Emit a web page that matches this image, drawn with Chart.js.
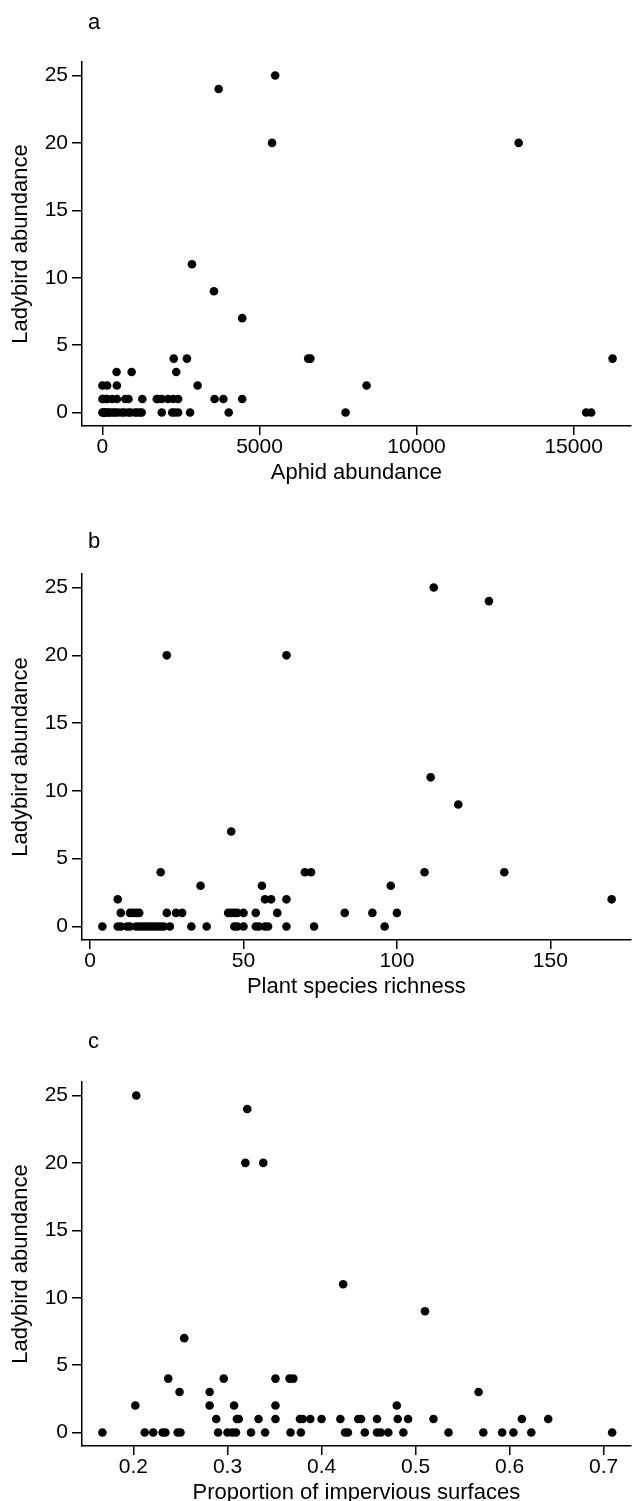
<!DOCTYPE html>
<html>
<head>
<meta charset="utf-8">
<script src="https://cdn.jsdelivr.net/npm/chart.js@4.4.1/dist/chart.umd.min.js"></script>
<style>
html, body { margin: 0; padding: 0; background: #fff; overflow: hidden; }
#wrap { position: relative; width: 635px; height: 1501px; }
.panel { position: absolute; left: 0; width: 635px; }
</style>
</head>
<body>
<div id="wrap">
    <div class="panel" style="top:12px"><canvas id="chart-a" width="635" height="474"></canvas></div>
    <div class="panel" style="top:524px"><canvas id="chart-b" width="635" height="476"></canvas></div>
    <div class="panel" style="top:1032px"><canvas id="chart-c" width="635" height="474"></canvas></div>
</div>
<script>
// ladybirds per site, same order in every x array below
const ladybirds = [25, 24, 20, 20, 11, 9, 7,
    4, 4, 4, 4, 4,
    3, 3, 3,
    2, 2, 2, 2, 2,
    1, 1, 1, 1, 1, 1, 1, 1, 1, 1, 1, 1, 1, 1, 1, 1, 1, 1,
    0, 0, 0, 0, 0, 0, 0, 0, 0, 0, 0, 0, 0, 0, 0, 0, 0, 0, 0, 0, 0, 0, 0, 0, 0, 0, 0, 0];

const aphidAbundance = [5500, 3700, 5400, 13250, 2850, 3550, 4450,
    2270, 2690, 6550, 6620, 16240,
    450, 930, 2350,
    0, 150, 460, 3030, 8410,
    0, 30, 150, 310, 460, 730, 830, 1270, 1730, 1760, 1890, 2090, 2250, 2410, 3570, 3850, 4450, 120,
    0, 50, 60, 80, 150, 200, 250, 350, 410, 500, 620, 700, 830, 900, 1040, 1100, 1200, 1250,
    1890, 2220, 2300, 2410, 2790, 4020, 7740, 15400, 15560, 20];

const plantRichness = [112, 130, 25, 64, 111, 120, 46,
    23, 70, 72, 109, 135,
    36, 56, 98,
    9, 57, 59, 64, 170,
    10, 13, 14, 15, 16, 25, 28, 30, 45, 46, 47, 48, 50, 54, 61, 83, 92, 100,
    4, 9, 10, 12, 13, 15, 16, 17, 18, 19, 20, 21, 22, 23, 24, 26, 33, 38, 47, 48,
    50, 54, 55, 57, 58, 64, 73, 96];

const imperviousProp = [0.203, 0.321, 0.319, 0.338, 0.423, 0.510, 0.254,
    0.237, 0.296, 0.351, 0.366, 0.370,
    0.249, 0.281, 0.567,
    0.202, 0.281, 0.307, 0.351, 0.480,
    0.288, 0.310, 0.312, 0.333, 0.351, 0.377, 0.380, 0.388, 0.400, 0.420, 0.439, 0.442, 0.459, 0.481, 0.492, 0.519, 0.613, 0.641,
    0.167, 0.212, 0.221, 0.231, 0.234, 0.247, 0.250, 0.290, 0.300, 0.305, 0.309, 0.325, 0.340, 0.367,
    0.378, 0.425, 0.428, 0.446, 0.459, 0.463, 0.471, 0.487, 0.535, 0.572, 0.592, 0.604, 0.623, 0.709];

const yTicks = [0, 5, 10, 15, 20, 25];
const aphidTicks = [0, 5000, 10000, 15000];
const plantTicks = [0, 50, 100, 150];
const imperviousTicks = [0.2, 0.3, 0.4, 0.5, 0.6, 0.7];

const FONT = '"Liberation Sans", Arial, Helvetica, sans-serif';

const panelLetter = {
    id: 'panelLetter',
    afterDraw(chart, args, opts) {
        const ctx = chart.ctx;
        ctx.save();
        ctx.font = '22px ' + FONT;
        ctx.fillStyle = '#000';
        ctx.textBaseline = 'alphabetic';
        ctx.fillText(opts.text, 88, opts.y);
        ctx.restore();
    }
};

function makeChart(id, xs, xTicks, xMin, xMax, xTitle, letter, letterY) {
    new Chart(document.getElementById(id), {
        type: 'scatter',
        data: {
            datasets: [{
                data: ladybirds.map((y, i) => ({ x: xs[i], y: y })),
                backgroundColor: '#000',
                borderColor: '#000',
                pointRadius: 4.3,
                pointBorderWidth: 0
            }]
        },
        options: {
            responsive: false,
            animation: false,
            events: [],
            layout: { padding: { top: 50, left: 0, right: 0, bottom: 0 } },
            plugins: {
                legend: { display: false },
                tooltip: { enabled: false },
                panelLetter: { text: letter, y: letterY }
            },
            scales: {
                x: {
                    type: 'linear',
                    min: xMin,
                    max: xMax,
                    afterBuildTicks: s => { s.ticks = xTicks.map(v => ({ value: v })); },
                    afterFit: s => { s.height = 60; },
                    grid: { drawOnChartArea: false, drawTicks: true, tickLength: 9, color: '#000', lineWidth: 1.5 },
                    border: { display: true, color: '#000', width: 1.5 },
                    ticks: {
                        autoSkip: false, maxRotation: 0, padding: 0,
                        color: '#000', font: { family: FONT, size: 21 },
                        callback: v => String(v)
                    },
                    title: {
                        display: true, text: xTitle, color: '#000',
                        font: { family: FONT, size: 22, lineHeight: 1.2 },
                        padding: { top: 0, bottom: 0 }
                    }
                },
                y: {
                    min: -1,
                    max: 26,
                    afterBuildTicks: s => { s.ticks = yTicks.map(v => ({ value: v })); },
                    afterFit: s => { s.width = 82; },
                    grid: { drawOnChartArea: false, drawTicks: true, tickLength: 10, color: '#000', lineWidth: 1.5 },
                    border: { display: true, color: '#000', width: 1.5 },
                    ticks: {
                        autoSkip: false, padding: 4,
                        color: '#000', font: { family: FONT, size: 21 }
                    },
                    title: {
                        display: true, text: 'Ladybird abundance', color: '#000',
                        font: { family: FONT, size: 22, lineHeight: 1.2 },
                        padding: { top: 8, bottom: 0 }
                    }
                }
            }
        },
        plugins: [panelLetter]
    });
}

makeChart('chart-a', aphidAbundance, aphidTicks, -650, 16817, 'Aphid abundance', 'a', 17.3);
makeChart('chart-b', plantRichness, plantTicks, -2.64, 176.2, 'Plant species richness', 'b', 24.3);
makeChart('chart-c', imperviousProp, imperviousTicks, 0.1453, 0.7287, 'Proportion of impervious surfaces', 'c', 16);
</script>
</body>
</html>
